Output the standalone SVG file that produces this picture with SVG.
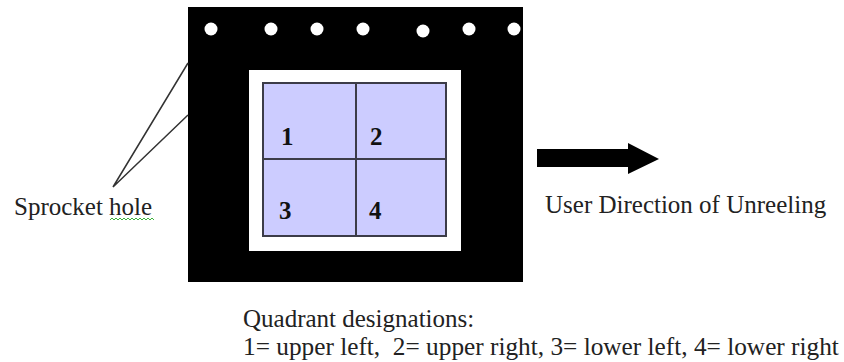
<svg xmlns="http://www.w3.org/2000/svg" width="844" height="362" viewBox="0 0 844 362">
  <style>
    text { font-family: 'Liberation Serif', 'DejaVu Serif', serif; }
    .lbl { font-size: 25px; fill: #222; }
    .num { font-size: 25px; font-weight: bold; fill: #111; }
    .hole { fill: #ffffff; }
    .cell { fill: #ccccff; stroke: #3c3c48; stroke-width: 2; }
    .lead { stroke: #333; stroke-width: 1.5; fill: none; }
  </style>

  <!-- film frame with sprocket holes -->
  <g id="film">
    <rect x="188" y="7" width="335" height="275" fill="#000"/>
    <circle class="hole" cx="211" cy="29" r="6.5"/>
    <circle class="hole" cx="271" cy="29" r="6.5"/>
    <circle class="hole" cx="317" cy="29" r="6.5"/>
    <circle class="hole" cx="363" cy="29" r="6.5"/>
    <circle class="hole" cx="423" cy="31" r="6.5"/>
    <circle class="hole" cx="469" cy="29" r="6.5"/>
    <circle class="hole" cx="514" cy="29" r="6.5"/>
    <rect x="249" y="70" width="212" height="181" fill="#fff"/>
  </g>

  <!-- image area split into four quadrants -->
  <g id="quadrants">
    <rect class="cell" x="263" y="83" width="183" height="153"/>
    <line x1="356" y1="83" x2="356" y2="236" stroke="#3c3c48" stroke-width="2"/>
    <line x1="263" y1="159" x2="446" y2="159" stroke="#3c3c48" stroke-width="2"/>
    <text class="num" x="281" y="145">1</text>
    <text class="num" x="370" y="145">2</text>
    <text class="num" x="279" y="219">3</text>
    <text class="num" x="369" y="219">4</text>
  </g>

  <!-- leader lines to the sprocket hole label -->
  <g id="connectors">
    <polyline class="lead" points="188,63 113,187 188,115"/>
  </g>

  <g id="sprocket-label">
    <text class="lbl" x="14" y="215">Sprocket hole</text>
    <path d="M110,220 l2,-2 l2,2 l2,-2 l2,2 l2,-2 l2,2 l2,-2 l2,2 l2,-2 l2,2 l2,-2 l2,2 l2,-2 l2,2 l2,-2 l2,2 l2,-2 l2,2 l2,-2 l2,2 l2,-2 l2,2" fill="none" stroke="#3cb43c" stroke-width="1"/>
  </g>

  <!-- direction arrow -->
  <g id="direction">
    <polygon points="537,149 628,149 628,143 659,159 628,174 628,167 537,167" fill="#000"/>
    <text class="lbl" x="545" y="213">User Direction of Unreeling</text>
  </g>

  <g id="legend">
    <text class="lbl" x="243" y="327">Quadrant designations:</text>
    <text class="lbl" x="243" y="355" style="font-size:25.3px" xml:space="preserve">1= upper left,  2= upper right, 3= lower left, 4= lower right</text>
  </g>
</svg>
